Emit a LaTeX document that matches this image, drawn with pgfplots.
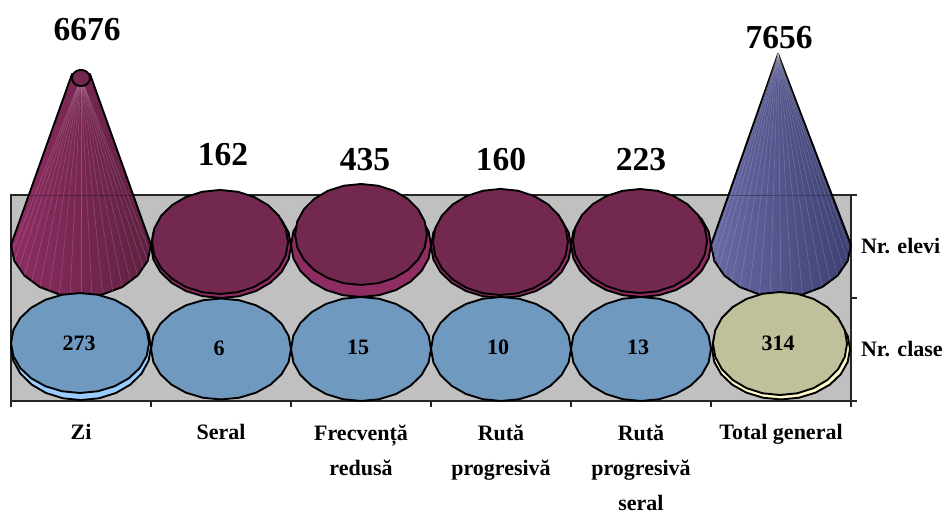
\documentclass[border=0pt]{standalone}
\usepackage{pgfplots}
\usepackage{pgfplotstable}
\pgfplotsset{compat=1.18}
\usepackage{fontspec}
\setmainfont{Liberation Serif}

\definecolor{wall}{HTML}{C0C0C0}
\definecolor{topred}{HTML}{73284F}
\definecolor{sidered}{HTML}{8F2D62}
\definecolor{topblue}{HTML}{7099C0}
\definecolor{sideblue}{HTML}{99CCFF}
\definecolor{topcream}{HTML}{C0C09A}
\definecolor{sidecream}{HTML}{FFFBC8}
\definecolor{coneleft}{HTML}{6A6AA6}
\definecolor{conemid}{HTML}{5D5D9C}
\definecolor{coneright}{HTML}{3C3F70}

% polygon of a cone/disc rim, unit radius
\pgfplotstableread{
u v
1 0
.966 .259
.866 .5
.707 .707
.5 .866
.259 .966
0 1
-.259 .966
-.5 .866
-.707 .707
-.866 .5
-.966 .259
-1 0
-.966 -.259
-.866 -.5
-.707 -.707
-.5 -.866
-.259 -.966
0 -1
.259 -.966
.5 -.866
.707 -.707
.866 -.5
.966 -.259
}\rim

% pale streaks on the cones
\pgfplotstableread{
u v
.988 .156
.951 .309
.891 .454
.809 .588
.707 .707
.588 .809
.454 .891
.309 .951
.156 .988
0 1
-.156 .988
-.309 .951
-.454 .891
-.588 .809
-.707 .707
-.809 .588
-.891 .454
-.951 .309
-.988 .156
}\spokes

% value labels, number of pupils
\pgfplotstableread{
x y lab
.543 3.602 6676
1.514 2.388 162
2.529 2.340 435
3.5 2.340 160
4.5 2.340 223
5.486 3.524 7656
}\elevi

% value labels, number of classes
\pgfplotstableread{
x y lab
.486 .563 273
1.486 .515 6
2.479 .524 15
3.479 .524 10
4.479 .524 13
5.479 .563 314
}\clase

\newcommand{\disc}[5]{\addplot[draw=black,line width=1.9pt,fill=#5]
  table[x expr=#1+#3*\thisrow{u},y expr=#2+#4*\thisrow{v}]{\rim} --cycle;}
\newcommand{\streaks}[4]{\addplot[white,opacity=.2,line width=.5pt,
  quiver={u={#3-(#1+.5*\thisrow{u})},v={#4-(#2-.505*\thisrow{v})}}]
  table[x expr=#1+.5*\thisrow{u},y expr=#2-.505*\thisrow{v}]{\spokes};}

\begin{document}
\begin{tikzpicture}
\path[use as bounding box] (-11pt,-113pt) rectangle (936pt,401pt);
\begin{axis}[
  at={(0pt,0pt)},anchor=south west,
  scale only axis,width=840pt,height=206pt,
  xmin=0,xmax=6,ymin=0,ymax=2,
  clip=false,no markers,
  axis background/.style={fill=wall},
  axis line style={line width=1.4pt,color=black!85},
  tick align=outside,
  xtick pos=bottom,ytick pos=right,
  yticklabel pos=right,
  xtick={.5,1.5,2.5,3.5,4.5,5.5},
  xticklabels={Zi,Seral,{Frecvență\\redusă},{Rută\\progresivă},{Rută\\progresivă\\seral},Total general},
  ytick={.5,1.5},
  yticklabels={Nr. clase,Nr. elevi},
  minor xtick={0,1,2,3,4,5,6},
  minor ytick={0,1,2},
  major tick length=0pt,
  minor tick length=6pt,
  tick style={line width=1.4pt,color=black!85},
  xticklabel style={font=\bfseries\fontsize{22}{35}\selectfont,align=center,anchor=north,yshift=-20pt},
  yticklabel style={font=\bfseries\fontsize{22}{24}\selectfont,anchor=west,xshift=6.5pt},
  every axis plot/.append style={line join=round},
]
% cone, Zi
\addplot[draw=black,line width=1.9pt,left color=sidered,middle color=sidered!88!black,right color=topred!82!black]
  coordinates {(.436,3.175) (.564,3.175) (1.0,1.515) (.976,1.359) (.905,1.218) (.794,1.106) (.655,1.035) (.5,1.010)
    (.345,1.035) (.206,1.106) (.095,1.218) (.024,1.359) (0,1.515)} --cycle;
\streaks{.5}{1.515}{.5}{3.136}
\addplot[black,opacity=.3,line width=1pt] coordinates {(.12,2) (.87,2)};
\disc{.5}{3.136}{.064}{.078}{topred}
% cone, Total general
\addplot[draw=black,line width=1.9pt,left color=coneleft,middle color=conemid,right color=coneright]
  coordinates {(5.479,3.369) (6.0,1.515) (5.976,1.359) (5.905,1.218) (5.794,1.106) (5.655,1.035) (5.5,1.010)
    (5.345,1.035) (5.206,1.106) (5.095,1.218) (5.024,1.359) (5.0,1.515)} --cycle;
\streaks{5.5}{1.515}{5.479}{3.369}
\addplot[black,opacity=.3,line width=1pt] coordinates {(5.12,2) (5.88,2)};
% upper row discs
\disc{1.5}{1.505}{.5}{.505}{sidered}
\disc{1.493}{1.544}{.486}{.505}{topred}
\disc{2.5}{1.515}{.5}{.505}{sidered}
\disc{2.5}{1.617}{.471}{.49}{topred}
\disc{3.5}{1.505}{.5}{.505}{sidered}
\disc{3.496}{1.544}{.482}{.515}{topred}
\disc{4.5}{1.515}{.5}{.505}{sidered}
\disc{4.493}{1.553}{.479}{.505}{topred}
% lower row discs
\disc{.5}{.524}{.5}{.515}{sideblue}
\disc{.493}{.563}{.493}{.485}{topblue}
\disc{1.5}{.505}{.5}{.49}{topblue}
\disc{2.5}{.505}{.5}{.505}{topblue}
\disc{3.5}{.505}{.5}{.505}{topblue}
\disc{4.5}{.505}{.5}{.505}{topblue}
\disc{5.5}{.505}{.493}{.49}{sidecream}
\disc{5.493}{.558}{.479}{.5}{topcream}
% value labels
\addplot[draw=none,point meta=explicit symbolic,nodes near coords,
  every node near coord/.style={anchor=center,font=\bfseries\fontsize{33.5}{36}\selectfont}]
  table[x=x,y=y,meta=lab]{\elevi};
\addplot[draw=none,point meta=explicit symbolic,nodes near coords,
  every node near coord/.style={anchor=center,font=\bfseries\fontsize{22}{24}\selectfont}]
  table[x=x,y=y,meta=lab]{\clase};
\end{axis}
\end{tikzpicture}
\end{document}
